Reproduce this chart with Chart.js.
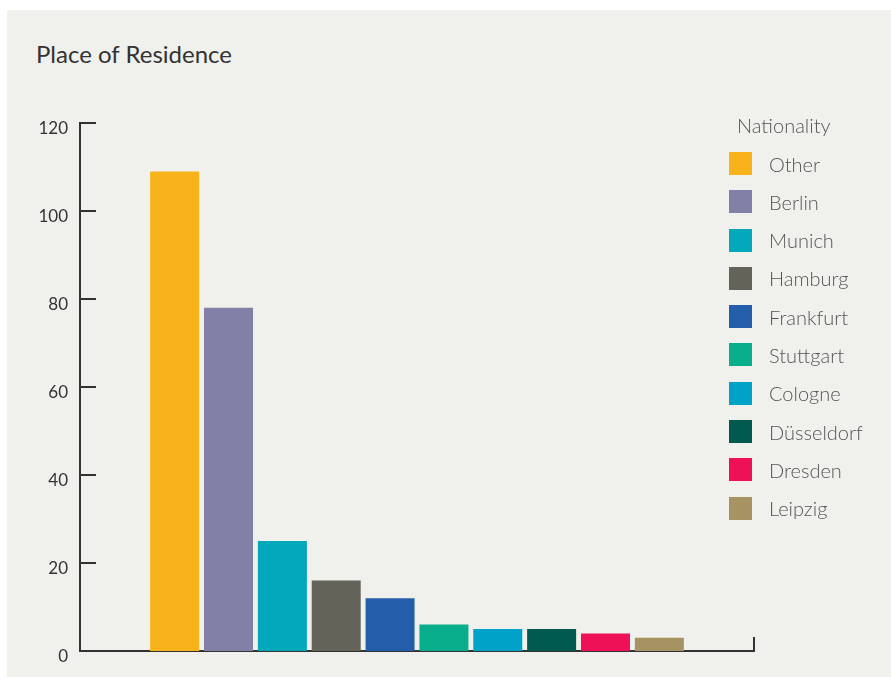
<!DOCTYPE html>
<html>
<head>
<meta charset="utf-8">
<script src="https://cdn.jsdelivr.net/npm/chart.js@4.4.1/dist/chart.umd.min.js"></script>
<style>
  html, body { margin: 0; padding: 0; background: #ffffff; }
  body { width: 891px; height: 677px; position: relative; overflow: hidden; font-family: Lato, "Open Sans", sans-serif; }
  #panel { position: absolute; left: 7px; top: 10px; width: 884px; height: 667px; background: #f0f0ec; }
  #wrap { position: absolute; left: 0; top: 0; width: 891px; height: 677px; }
  #title { position: absolute; left: 36px; top: 38px; font-size: 24px; color: #333333; line-height: 32px; white-space: nowrap; }
  #legend { position: absolute; left: 729px; top: 111px; }
  #legend .lt { margin-left: 8px; font-size: 20px; font-weight: 300; color: #555555; line-height: 28px; height: 28px; margin-bottom: 13px; }
  #legend .it { display: flex; align-items: center; height: 23px; margin-bottom: 15.3px; }
  #legend .sw { width: 23px; height: 23px; flex: none; }
  #legend .tx { margin-left: 17px; font-size: 20px; font-weight: 300; color: #555555; white-space: nowrap; }
</style>
</head>
<body>
<div id="panel"></div>
<div id="title">Place of Residence</div>
<div id="wrap"><canvas id="c" width="891" height="677"></canvas></div>
<div id="legend"></div>
<script>
const legendTitle = "Nationality";
const cities = ["Other", "Berlin", "Munich", "Hamburg", "Frankfurt", "Stuttgart", "Cologne", "Düsseldorf", "Dresden", "Leipzig"];
const counts = [109, 78, 25, 16, 12, 6, 5, 5, 4, 3];
const colors = ["#f9b31a", "#8180a6", "#02a8b9", "#63635a", "#245daa", "#08ae8c", "#01a2c8", "#005a50", "#ee1157", "#a79361"];
const yTicks = [0, 20, 40, 60, 80, 100, 120];

const axisPlugin = {
  id: 'customAxes',
  beforeDatasetsDraw(chart) {
    const ctx = chart.ctx;
    const y = chart.scales.y;
    const a = chart.chartArea;
    ctx.save();
    ctx.strokeStyle = '#333333';
    ctx.lineWidth = 2;
    ctx.lineCap = 'butt';
    ctx.beginPath();
    ctx.moveTo(a.left, y.getPixelForValue(yTicks[yTicks.length - 1]) - 1);
    ctx.lineTo(a.left, y.getPixelForValue(0) + 1);
    ctx.stroke();
    yTicks.forEach(v => {
      const py = y.getPixelForValue(v);
      ctx.beginPath();
      ctx.moveTo(a.left, py);
      ctx.lineTo(a.left + 16, py);
      ctx.stroke();
    });
    const py0 = y.getPixelForValue(0);
    ctx.beginPath();
    ctx.moveTo(a.left, py0);
    ctx.lineTo(a.right, py0);
    ctx.stroke();
    ctx.beginPath();
    ctx.moveTo(a.right, py0 + 1);
    ctx.lineTo(a.right, py0 - 14);
    ctx.stroke();
    ctx.restore();
  }
};

const chart = new Chart(document.getElementById('c'), {
  type: 'bar',
  data: {
    labels: [''],
    datasets: cities.map((c, i) => ({
      label: c,
      data: [counts[i]],
      backgroundColor: colors[i],
      borderWidth: 0
    }))
  },
  options: {
    responsive: false,
    animation: false,
    maintainAspectRatio: false,
    categoryPercentage: 0.799,
    barPercentage: 0.91,
    layout: { padding: { left: 0, right: 137, top: 123, bottom: 26 } },
    plugins: { legend: { display: false }, title: { display: false }, tooltip: { enabled: false } },
    scales: {
      x: { display: false },
      y: {
        min: 0, max: 120,
        afterFit: s => { s.width = 80; },
        afterBuildTicks: s => { s.ticks = yTicks.map(v => ({ value: v })); },
        grid: { display: false, drawTicks: false },
        border: { display: false },
        ticks: { font: { family: 'Lato', size: 17 }, color: '#333333', padding: 12, labelOffset: 6 }
      }
    }
  },
  plugins: [axisPlugin]
});

const lg = document.getElementById('legend');
const t = document.createElement('div');
t.className = 'lt';
t.textContent = legendTitle;
lg.appendChild(t);
chart.data.datasets.forEach(ds => {
  const it = document.createElement('div');
  it.className = 'it';
  const sw = document.createElement('div');
  sw.className = 'sw';
  sw.style.background = ds.backgroundColor;
  const tx = document.createElement('div');
  tx.className = 'tx';
  tx.textContent = ds.label;
  it.appendChild(sw); it.appendChild(tx);
  lg.appendChild(it);
});
</script>
</body>
</html>
